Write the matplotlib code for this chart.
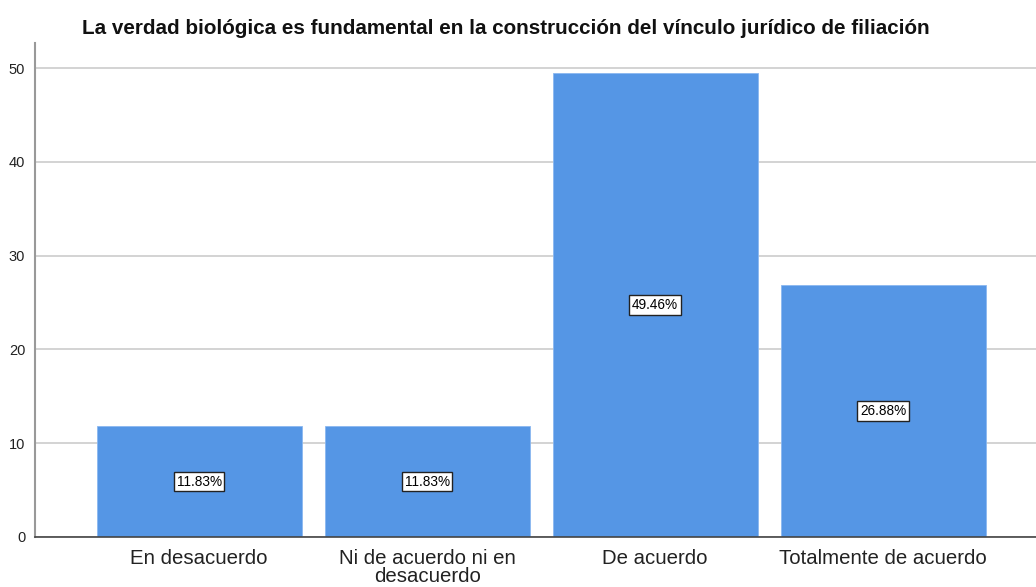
import matplotlib
matplotlib.use("Agg")
import matplotlib.pyplot as plt

categories = ["En desacuerdo", "Ni de acuerdo ni en\ndesacuerdo", "De acuerdo", "Totalmente de acuerdo"]
percentages = [11.83, 11.83, 49.46, 26.88]
yticks = [0, 10, 20, 30, 40, 50]
title = "La verdad biológica es fundamental en la construcción del vínculo jurídico de filiación"

plt.rcParams['font.family'] = ['Liberation Sans', 'DejaVu Sans']

W, H = 1036, 587
fig = plt.figure(figsize=(W / 100, H / 100), dpi=100)
left, right, top, bottom = 35, 1036, 43, 537
ax = fig.add_axes([left / W, 1 - bottom / H, (right - left) / W, (bottom - top) / H])

x = list(range(len(categories)))
ax.bar(x, percentages, width=0.9, color="#5596E5", edgecolor="#8ab8f0", linewidth=0.6, zorder=2)
for xi, v in zip(x, percentages):
    ax.text(xi, v / 2, f"{v:.2f}%", ha="center", va="center", fontsize=9.8, zorder=3,
            bbox=dict(boxstyle="square,pad=0.2", fc="white", ec="#222222", lw=1))

ax.set_xlim(-0.72, 3.67)
ax.set_ylim(0, 52.67)
ax.set_yticks(yticks)
ax.set_yticklabels([str(t) for t in yticks], fontsize=10.5)
ax.set_xticks(x)
ax.set_xticklabels(categories, fontsize=14.7, linespacing=0.92)
ax.tick_params(axis="both", length=0, colors="#222222")
ax.tick_params(axis="x", pad=9)
ax.tick_params(axis="y", pad=7)
ax.yaxis.grid(True, color="#cccccc", linewidth=1.2, zorder=0)
ax.set_axisbelow(True)
for s in ["top", "right"]:
    ax.spines[s].set_visible(False)
ax.spines["left"].set_color("#999999")
ax.spines["left"].set_linewidth(1.5)
ax.spines["bottom"].set_color("#444444")
ax.spines["bottom"].set_linewidth(1.2)

fig.text(506 / W, 1 - 28 / H, title, ha="center", va="center", fontsize=14.9, fontweight="bold", color="#111111")

fig.savefig("out.png", dpi=100)
